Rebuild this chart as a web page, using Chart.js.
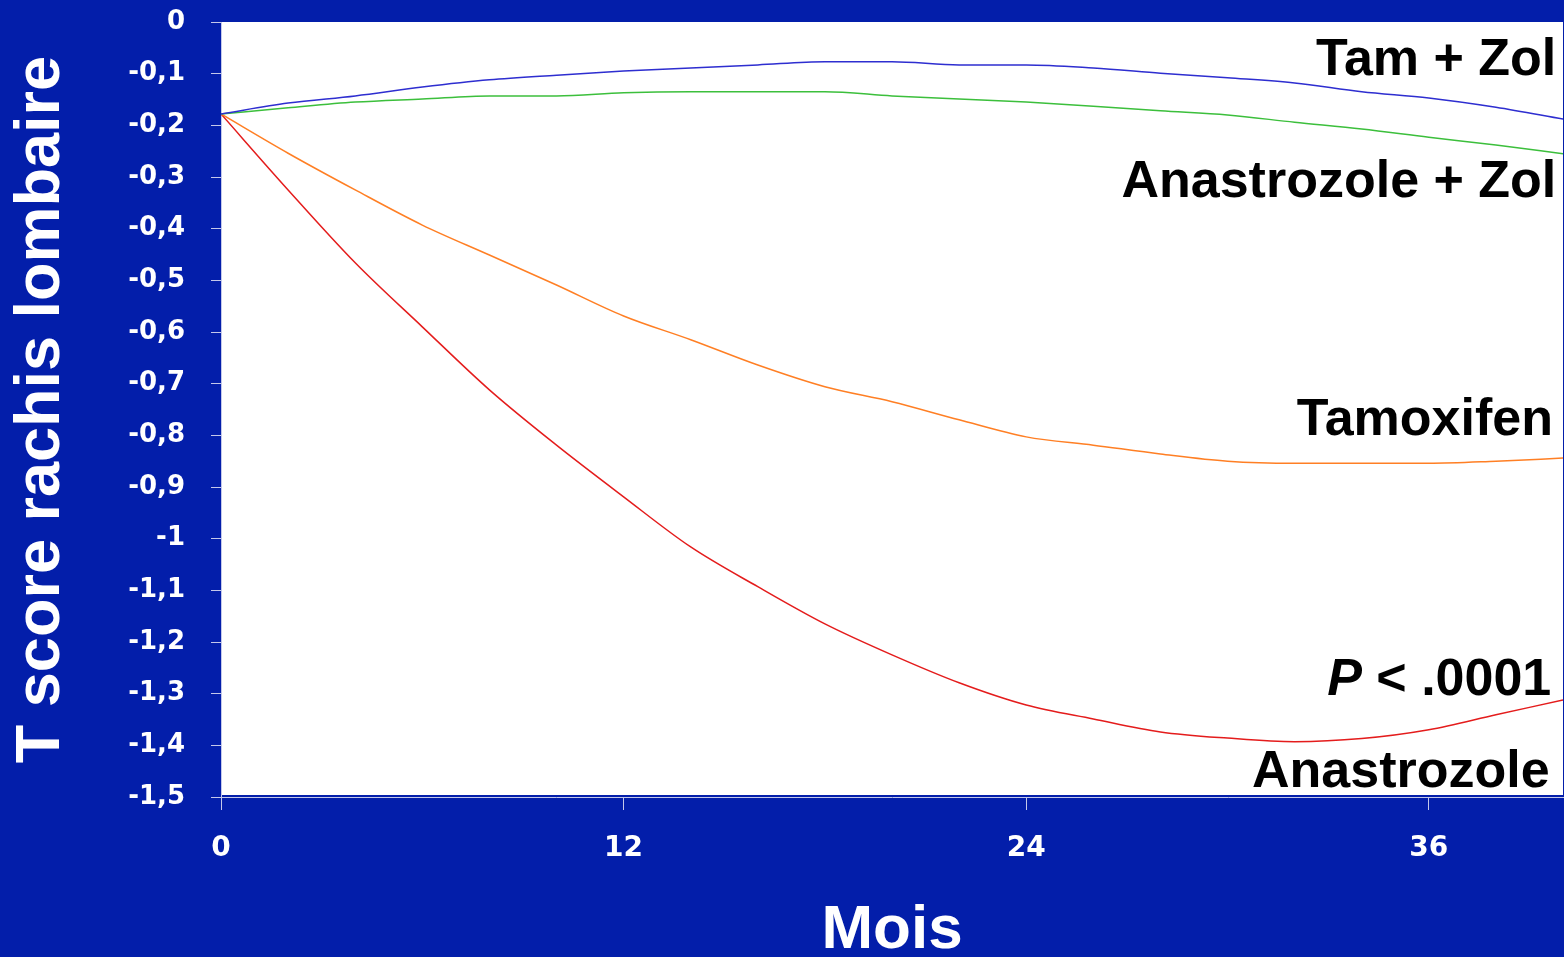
<!DOCTYPE html>
<html>
<head>
<meta charset="utf-8">
<script src="https://cdn.jsdelivr.net/npm/chart.js@4.4.1/dist/chart.umd.min.js"></script>
<style>
  html, body { margin: 0; padding: 0; background: #031eaa; overflow: hidden; }
  #wrap { width: 1564px; height: 957px; }
</style>
</head>
<body>
<div id="wrap"><canvas id="chart" width="1564" height="957"></canvas></div>
<script>
// months on the x axis (every 2 months)
const months = [0, 2, 4, 6, 8, 10, 12, 14, 16, 18, 20, 22, 24, 26, 28, 30, 32, 34, 36, 38, 40];
const xTicks = [0, 12, 24, 36];

// T score rachis lombaire
const tamZol = [-0.178, -0.157, -0.143, -0.126, -0.112, -0.103, -0.095, -0.089, -0.083, -0.077, -0.077,
                -0.083, -0.083, -0.089, -0.099, -0.108, -0.118, -0.135, -0.147, -0.165, -0.188];
const anaZol = [-0.178, -0.166, -0.155, -0.149, -0.143, -0.143, -0.137, -0.135, -0.135, -0.135, -0.143,
                -0.149, -0.155, -0.163, -0.172, -0.180, -0.194, -0.207, -0.223, -0.238, -0.255];
const tamoxifen = [-0.178, -0.254, -0.325, -0.393, -0.451, -0.509, -0.569, -0.615, -0.664, -0.706, -0.735,
                   -0.770, -0.803, -0.819, -0.836, -0.850, -0.854, -0.854, -0.854, -0.850, -0.844];
const anastrozole = [-0.178, -0.325, -0.466, -0.590, -0.712, -0.819, -0.919, -1.016, -1.093, -1.165, -1.225,
                     -1.279, -1.322, -1.349, -1.374, -1.386, -1.393, -1.387, -1.370, -1.341, -1.312];

const seriesNames = ['Tam + Zol', 'Anastrozole + Zol', 'Tamoxifen', 'Anastrozole'];

// text labels drawn on the plot (right edge in months, baseline in T score)
const annotations = [
    { text: 'Tam + Zol', x: 39.8, y: -0.103 },
    { text: 'Anastrozole + Zol', x: 39.8, y: -0.339 },
    { text: 'Tamoxifen', x: 39.7, y: -0.799 },
    { italic: 'P', text: ' < .0001', x: 39.65, y: -1.303 },
    { text: 'Anastrozole', x: 39.6, y: -1.481 }
];

const BG = '#031eaa';
const AXIS = '#c4c8ea';
const LABEL_FONT = '"Liberation Sans", Arial, sans-serif';
const TICK_FONT = '"DejaVu Sans", Verdana, sans-serif';

const toPoints = (arr) => arr.map((v, i) => ({ x: months[i], y: v }));

// blue page + white plot area
const backgroundPlugin = {
    id: 'bg',
    beforeDraw(chart) {
        const { ctx, chartArea: a } = chart;
        ctx.save();
        ctx.fillStyle = BG;
        ctx.fillRect(0, 0, chart.width, chart.height);
        ctx.fillStyle = '#ffffff';
        ctx.fillRect(a.left, a.top, a.right - a.left, a.bottom - a.top - 2);
        ctx.restore();
    }
};

const labelPlugin = {
    id: 'labels',
    afterDatasetsDraw(chart) {
        const { ctx, scales: { x, y } } = chart;
        ctx.save();
        ctx.fillStyle = '#000000';
        ctx.textAlign = 'right';
        ctx.textBaseline = 'alphabetic';
        annotations.forEach(a => {
            const px = x.getPixelForValue(a.x);
            const py = y.getPixelForValue(a.y);
            ctx.font = `bold 52px ${LABEL_FONT}`;
            ctx.fillText(a.text, px, py);
            if (a.italic) {
                const w = ctx.measureText(a.text).width;
                ctx.font = `italic bold 52px ${LABEL_FONT}`;
                ctx.fillText(a.italic, px - w, py);
            }
        });
        ctx.restore();
    }
};

const lineStyle = (label, data, color) => ({
    label: label,
    data: toPoints(data),
    borderColor: color,
    backgroundColor: color,
    borderWidth: 1.5,
    pointRadius: 0,
    tension: 0.4,
    cubicInterpolationMode: 'monotone',
    fill: false
});

new Chart(document.getElementById('chart').getContext('2d'), {
    type: 'line',
    data: {
        datasets: [
            lineStyle(seriesNames[0], tamZol, '#2e2ed0'),
            lineStyle(seriesNames[1], anaZol, '#3cbf3c'),
            lineStyle(seriesNames[2], tamoxifen, '#ff7f24'),
            lineStyle(seriesNames[3], anastrozole, '#e41c1c')
        ]
    },
    options: {
        responsive: false,
        animation: false,
        layout: { padding: { top: 22, right: 1, left: 0, bottom: 0 } },
        plugins: {
            legend: { display: false },
            tooltip: { enabled: false }
        },
        scales: {
            x: {
                type: 'linear',
                min: 0,
                max: 40,
                afterFit: (s) => { s.height = 160; s.paddingLeft = 0; s.paddingRight = 0; },
                afterBuildTicks: (s) => { s.ticks = xTicks.map(v => ({ value: v })); },
                grid: { drawOnChartArea: false, drawTicks: true, tickLength: 13, tickColor: AXIS },
                border: { color: AXIS, width: 1 },
                ticks: {
                    color: '#ffffff',
                    padding: 22,
                    maxRotation: 0,
                    font: { family: TICK_FONT, weight: 'bold', size: 28 }
                },
                title: {
                    display: true,
                    text: 'Mois',
                    color: '#ffffff',
                    padding: { top: 0, bottom: 1 },
                    font: { family: LABEL_FONT, weight: 'bold', size: 62, lineHeight: 0.8 }
                }
            },
            y: {
                min: -1.5,
                max: 0,
                afterFit: (s) => { s.width = 221; s.paddingTop = 0; s.paddingBottom = 0; },
                grid: { drawOnChartArea: false, drawTicks: true, tickLength: 10, tickColor: AXIS },
                border: { color: AXIS, width: 1 },
                ticks: {
                    stepSize: 0.1,
                    color: '#ffffff',
                    padding: 26,
                    font: { family: TICK_FONT, weight: 'bold', size: 26 },
                    callback: (v) => String(Math.round(v * 10) / 10).replace('.', ',')
                },
                title: {
                    display: true,
                    text: 'T score rachis lombaire',
                    color: '#ffffff',
                    padding: { top: 4, bottom: 0 },
                    font: { family: LABEL_FONT, weight: 'bold', size: 63, lineHeight: 1.2 }
                }
            }
        }
    },
    plugins: [backgroundPlugin, labelPlugin]
});
</script>
</body>
</html>
